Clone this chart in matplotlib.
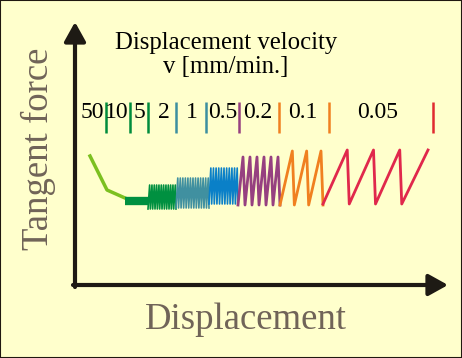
import matplotlib.pyplot as plt
import matplotlib.patches as patches
import numpy as np

# velocity labels (mm/min) and where they sit along the displacement axis
vel_labels = ['50', '10', '5', '2', '1', '0.5', '0.2', '0.1', '0.05']
vel_label_x = [92, 117, 139, 164, 192, 223, 258, 303, 378]

# separator marks between the velocity labels
sep_x = [106, 130, 148, 176, 206, 239, 279, 329, 433]
sep_colors = ['#008c3c', '#008c3c', '#008c3c', '#3c8fa0', '#3c8fa0',
              '#964080', '#f08020', '#f08020', '#e02a30']

# run-in curve (steady sliding at high velocity)
runin_x = [90, 107, 125]
runin_y = [202, 168, 160]
steady_x = [125, 148]
steady_y = [157, 157]

# stick-slip sections: start, end, number of teeth, low force, high force
seg_start = [148, 176, 209, 238, 280, 323]
seg_end = [176, 209, 238, 280, 323, 428]
seg_teeth = [12, 13, 11, 6, 3, 4]
seg_low = [149, 150, 154, 153, 153, 154]
seg_high = [173, 180, 190, 201, 207, 208]
seg_colors = ['#009040', '#4090a0', '#0a80c8', '#964080', '#f08020', '#e0284c']
seg_lw = [1.2, 1.2, 1.2, 2.0, 2.0, 2.0]


def sawtooth(x0, x1, n, lo, hi, last):
    per = (x1 - x0) / n
    drop = min(2.0, per * 0.3)
    xs, ys = [x0], [lo]
    for i in range(n):
        xe = x0 + (i + 1) * per
        if last and i == n - 1:
            xs.append(xe)
            ys.append(hi)
        else:
            xs += [xe - drop, xe]
            ys += [hi, lo]
    return xs, ys


bg = '#ffffcc'
fig = plt.figure(figsize=(4.62, 3.58), dpi=100, facecolor=bg)
ax = fig.add_axes([0, 0, 1, 1])
ax.set_xlim(0, 462)
ax.set_ylim(0, 358)
ax.axis('off')
ax.set_facecolor(bg)

axis_col = '#1e1a14'
ax.annotate('', xy=(75, 336), xytext=(75, 71),
            arrowprops=dict(arrowstyle='-|>,head_length=0.45,head_width=0.25',
                            lw=3, color=axis_col, mutation_scale=26,
                            shrinkA=0, shrinkB=0))
ax.annotate('', xy=(448, 73), xytext=(73, 73),
            arrowprops=dict(arrowstyle='-|>,head_length=0.45,head_width=0.25',
                            lw=3, color=axis_col, mutation_scale=26,
                            shrinkA=0, shrinkB=0))

label_col = '#706458'
ax.text(38, 209, 'Tangent force', rotation=90, ha='center', va='center',
        fontsize=26.5, family='Liberation Serif', color=label_col)
ax.text(246, 38, 'Displacement', ha='center', va='center',
        fontsize=26.5, family='Liberation Serif', color=label_col)

ax.text(226, 315, 'Displacement velocity', ha='center', va='center',
        fontsize=17.8, family='Liberation Serif', color='black')
ax.text(226, 291, 'v [mm/min.]', ha='center', va='center',
        fontsize=17.8, family='Liberation Serif', color='black')

for lab, lx in zip(vel_labels, vel_label_x):
    ax.text(lx, 246, lab, ha='center', va='center',
            fontsize=17, family='Liberation Serif', color='black')
for sx, sc in zip(sep_x, sep_colors):
    ax.plot([sx, sx], [225, 256], color=sc, lw=1.8, solid_capstyle='butt')

ax.plot(runin_x, runin_y, color='#7cc020', lw=2.5)
ax.plot(steady_x, steady_y, color='#009040', lw=6, solid_capstyle='butt')

for k in range(len(seg_start)):
    xs, ys = sawtooth(seg_start[k], seg_end[k], seg_teeth[k],
                      seg_low[k], seg_high[k], k == len(seg_start) - 1)
    ax.plot(xs, ys, color=seg_colors[k], lw=seg_lw[k])

fig.patches.append(patches.Rectangle((0, 0), 1, 1, transform=fig.transFigure,
                                     fill=False, edgecolor='#201810', lw=1.5))

fig.savefig('out.png', dpi=100, facecolor=bg)
